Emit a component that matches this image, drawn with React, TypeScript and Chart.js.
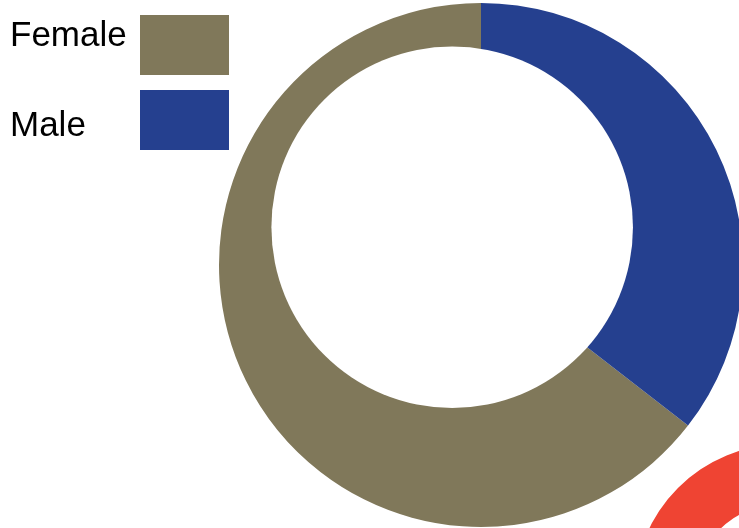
import React, { useEffect, useRef } from "react";
import { Chart, registerables } from "chart.js";

Chart.register(...registerables);

const categories = ["Female", "Male"];
const shares = [64.5, 35.5];
const colors = ["#80785a", "#25408f"];
const accentValues = [1];
const accentColors = ["#ef4433"];

const legendPlugin = {
  id: "sideLegend",
  afterDraw(chart: any) {
    const ctx = chart.ctx;
    const rows = [
      { textY: 45.5, boxY: 15 },
      { textY: 135.5, boxY: 90 },
    ];
    ctx.save();
    ctx.font = '35px "Liberation Sans", Arial, sans-serif';
    ctx.textBaseline = "alphabetic";
    ctx.textAlign = "left";
    chart.data.labels.forEach((lab: string, i: number) => {
      const r = rows[i];
      ctx.fillStyle = "#000";
      ctx.fillText(lab, 10, r.textY);
      ctx.fillStyle = chart.data.datasets[0].backgroundColor[i];
      ctx.fillRect(140, r.boxY, 89, 60);
    });
    ctx.restore();
  },
};

const holePlugin = {
  id: "offsetHole",
  afterDatasetsDraw(chart: any) {
    const arc = chart.getDatasetMeta(0).data[0];
    if (!arc) return;
    const R = arc.outerRadius;
    const ctx = chart.ctx;
    ctx.save();
    ctx.beginPath();
    ctx.arc(arc.x - 0.11 * R, arc.y - 0.144 * R, 0.69 * R, 0, Math.PI * 2);
    ctx.fillStyle = "#ffffff";
    ctx.fill();
    ctx.restore();
  },
};

export default function App() {
  const mainRef = useRef<HTMLCanvasElement>(null);
  const accentRef = useRef<HTMLCanvasElement>(null);

  useEffect(() => {
    const total = shares.reduce((a, b) => a + b, 0);
    const rotation = (360 * shares[1]) / total;
    const main = new Chart(mainRef.current!, {
      type: "pie",
      data: {
        labels: categories,
        datasets: [
          {
            data: shares,
            backgroundColor: colors,
            borderWidth: 0,
          },
        ],
      },
      options: {
        responsive: false,
        animation: false,
        rotation,
        layout: { padding: { top: 3, bottom: 1, left: 2, right: 0 } },
        plugins: { legend: { display: false }, tooltip: { enabled: false } },
      },
      plugins: [holePlugin, legendPlugin],
    });
    const accent = new Chart(accentRef.current!, {
      type: "doughnut",
      data: {
        labels: ["accent"],
        datasets: [
          { data: accentValues, backgroundColor: accentColors, borderWidth: 0 },
        ],
      },
      options: {
        responsive: false,
        animation: false,
        cutout: "60.7%",
        plugins: { legend: { display: false }, tooltip: { enabled: false } },
      },
    });
    return () => {
      main.destroy();
      accent.destroy();
    };
  }, []);

  return (
    <div
      style={{
        position: "absolute",
        left: 0,
        top: 0,
        width: 739,
        height: 528,
        overflow: "hidden",
        background: "#ffffff",
      }}
    >
      <canvas
        ref={mainRef}
        width={960}
        height={528}
        style={{ position: "absolute", left: 0, top: 0, width: 960, height: 528 }}
      />
      <canvas
        ref={accentRef}
        width={300}
        height={300}
        style={{ position: "absolute", left: 634, top: 444, width: 300, height: 300 }}
      />
    </div>
  );
}
